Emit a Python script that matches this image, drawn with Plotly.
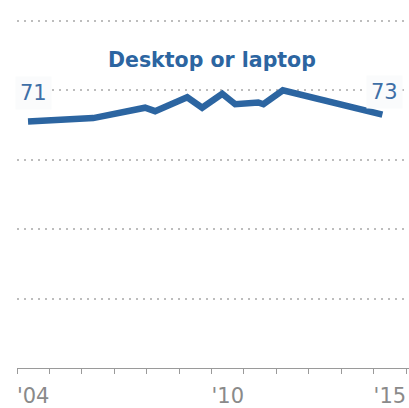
import plotly.graph_objects as go

# Share of adults who own a desktop or laptop computer, by survey date
survey_year = [2004.34, 2006.35, 2007.95, 2008.26, 2009.25, 2009.71, 2010.33,
               2010.73, 2011.44, 2011.6, 2012.2, 2012.83, 2015.27]
pct_desktop_laptop = [71, 72, 75, 74, 78, 75, 79, 76, 76.5, 76, 80, 78.5, 73]

year_ticks = [2004.5, 2010.5, 2015.5]
year_labels = ["'04", "'10", "'15"]
year_edges = list(range(2004, 2017))
grid_values = [20, 40, 60, 80, 100]

BLUE = "#2c65a1"
LABEL_BLUE = "#3f6fa6"
GREY = "#8a8a8a"

fig = go.Figure()
fig.add_trace(go.Scatter(
    x=survey_year, y=pct_desktop_laptop, mode="lines",
    line=dict(color=BLUE, width=6.5, shape="linear"),
    hoverinfo="skip", showlegend=False,
))

# End-point value labels
fig.add_annotation(x=survey_year[0], y=pct_desktop_laptop[0], text=str(pct_desktop_laptop[0]),
                   showarrow=False, xshift=5, yshift=29,
                   font=dict(family="DejaVu Sans", size=21, color=LABEL_BLUE),
                   bgcolor="#fafbfc", borderpad=4)
fig.add_annotation(x=survey_year[-1], y=pct_desktop_laptop[-1], text=str(pct_desktop_laptop[-1]),
                   showarrow=False, xshift=2, yshift=23,
                   font=dict(family="DejaVu Sans", size=21, color=LABEL_BLUE),
                   bgcolor="#fafbfc", borderpad=4)

# Series name
fig.add_annotation(x=2010.02, y=88.8, text="<b>Desktop or laptop</b>", showarrow=False,
                   font=dict(family="DejaVu Sans", size=20.5, color=BLUE))

fig.update_layout(
    width=409, height=408,
    margin=dict(l=17, r=0, t=14, b=40),
    paper_bgcolor="white", plot_bgcolor="white",
    xaxis=dict(
        range=[2004, 2016.09],
        tickmode="array", tickvals=year_ticks, ticktext=year_labels,
        ticks="", showgrid=False, zeroline=False, ticklabelstandoff=9,
        showline=True, linecolor="#9a9a9a", linewidth=1,
        tickfont=dict(family="DejaVu Sans", size=21, color=GREY),
        minor=dict(tickmode="array", tickvals=year_edges, ticks="outside",
                   ticklen=5, tickcolor="#9a9a9a", tickwidth=1, showgrid=False),
    ),
    yaxis=dict(
        range=[0, 102], tickmode="array", tickvals=grid_values,
        showticklabels=False, ticks="", zeroline=False, showline=False,
        showgrid=True, gridcolor="#bdbdbd", gridwidth=1.5, griddash="2px,5px",
    ),
)

fig.write_html("out.html")
